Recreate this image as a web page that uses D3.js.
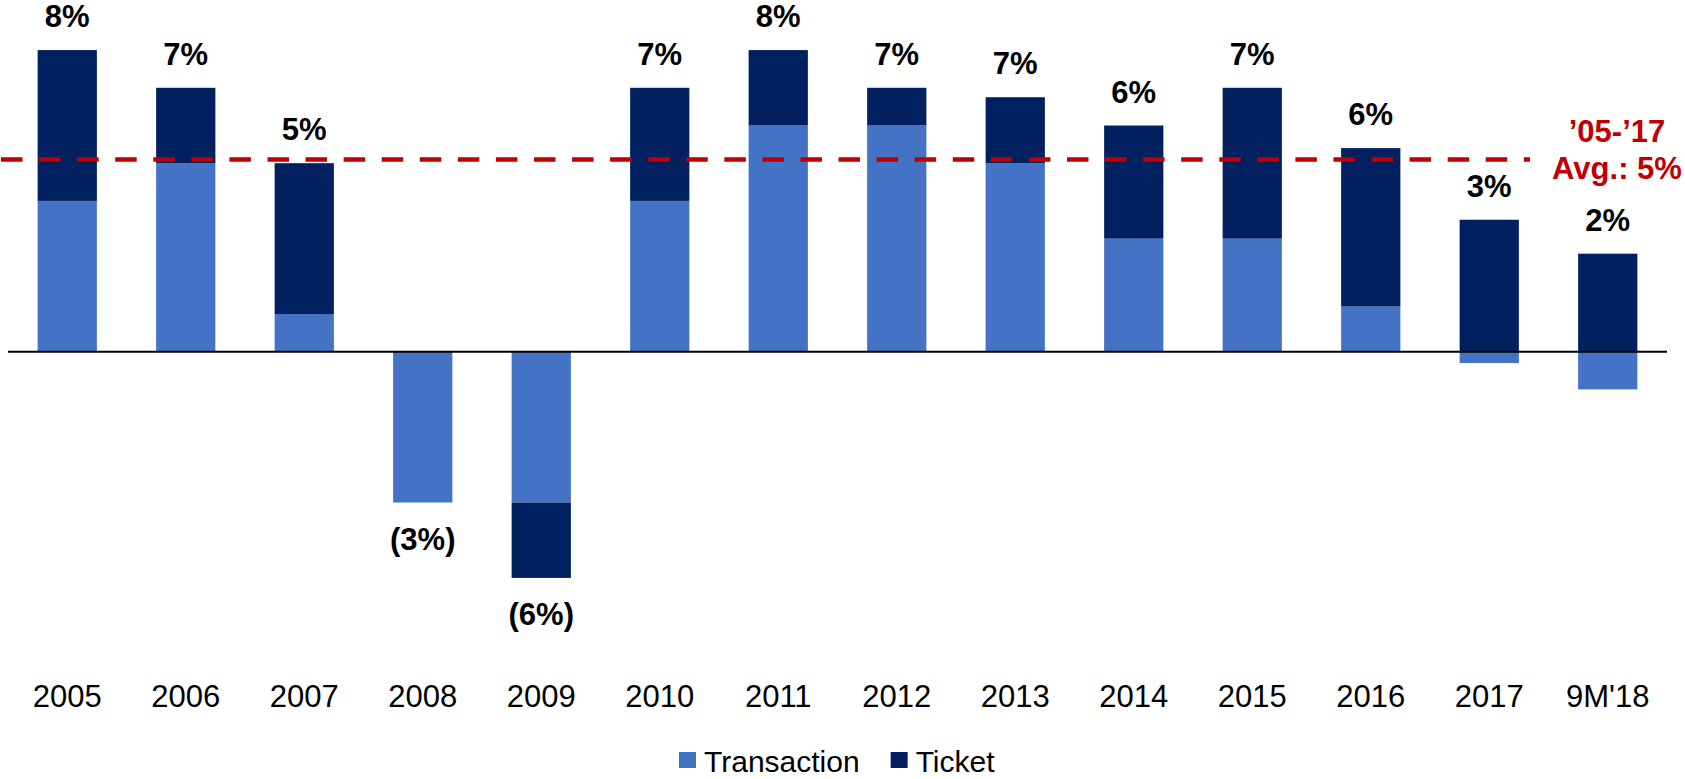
<!DOCTYPE html>
<html>
<head>
<meta charset="utf-8">
<script src="https://cdn.jsdelivr.net/npm/d3@7"></script>
<style>
    body { margin: 0; background: #fff; }
    svg { display: block; font-family: "Liberation Sans", Arial, sans-serif; }
</style>
</head>
<body>
<svg></svg>
<script>
// growth split into transaction and ticket contribution, in %
var categories = ['2005', '2006', '2007', '2008', '2009', '2010', '2011', '2012', '2013', '2014', '2015', '2016', '2017', "9M'18"];
var transaction = [4.0, 5.0, 1.0, -4.0, -4.0, 4.0, 6.0, 6.0, 5.0, 3.0, 3.0, 1.2, -0.3, -1.0];
var ticket = [4.0, 2.0, 4.0, 0, -2.0, 3.0, 2.0, 1.0, 1.75, 3.0, 4.0, 4.2, 3.5, 2.6];
var totalLabels = ['8%', '7%', '5%', '(3%)', '(6%)', '7%', '8%', '7%', '7%', '6%', '7%', '6%', '3%', '2%'];
var avgValue = 5.1;
var avgLabel = ['\u201905-\u201917', 'Avg.: 5%'];
var seriesNames = ['Transaction', 'Ticket'];

var width = 1685;
var height = 779;
var colors = {Transaction: '#4472c4', Ticket: '#002060'};

var svg = d3.select('svg')
    .attr('width', width)
    .attr('height', height);

var x = d3.scaleBand()
    .domain(categories)
    .range([8, 1667])
    .paddingInner(0.5)
    .paddingOuter(0.25);

// zero sits at 351.7px, ~37.7px per percent
var y = d3.scaleLinear()
    .domain([-6.5, 8.5])
    .range([596.75, 31.25]);

// stack: each segment grows from zero or from the previous segment of same sign
var rows = categories.map(function(c, i) {
    var segs = [];
    var pos = 0, neg = 0;
    [['Transaction', transaction[i]], ['Ticket', ticket[i]]].forEach(function(s) {
        var v = s[1];
        if (v >= 0) {
            segs.push({name: s[0], y0: pos, y1: pos + v});
            pos += v;
        } else {
            segs.push({name: s[0], y0: neg, y1: neg + v});
            neg += v;
        }
    });
    return {cat: c, segs: segs, top: pos, bottom: neg, label: totalLabels[i], net: transaction[i] + ticket[i]};
});

var barG = svg.append('g');
barG.selectAll('g.bar')
    .data(rows)
    .enter().append('g')
    .attr('class', 'bar')
    .selectAll('rect')
    .data(function(d) { return d.segs.map(function(s) { return Object.assign({cat: d.cat}, s); }); })
    .enter().append('rect')
    .attr('x', function(d) { return x(d.cat); })
    .attr('width', x.bandwidth())
    .attr('y', function(d) { return y(Math.max(d.y0, d.y1)); })
    .attr('height', function(d) { return Math.abs(y(d.y0) - y(d.y1)); })
    .attr('fill', function(d) { return colors[d.name]; });

// zero line
svg.append('line')
    .attr('x1', 8)
    .attr('x2', 1667)
    .attr('y1', y(0))
    .attr('y2', y(0))
    .attr('stroke', '#000')
    .attr('stroke-width', 2);

// average line
svg.append('line')
    .attr('x1', 1)
    .attr('x2', 1530)
    .attr('y1', y(avgValue))
    .attr('y2', y(avgValue))
    .attr('stroke', '#c00000')
    .attr('stroke-width', 4.5)
    .attr('stroke-dasharray', '21.5,16.57');

var avgText = svg.append('text')
    .attr('x', 1617)
    .attr('y', 142.3)
    .attr('text-anchor', 'middle')
    .attr('font-size', 31)
    .attr('font-weight', 'bold')
    .attr('fill', '#c00000');
avgText.selectAll('tspan')
    .data(avgLabel)
    .enter().append('tspan')
    .attr('x', 1617)
    .attr('dy', function(d, i) { return i === 0 ? 0 : 37; })
    .text(function(d) { return d; });

// total labels
svg.append('g')
    .selectAll('text')
    .data(rows)
    .enter().append('text')
    .attr('x', function(d) { return x(d.cat) + x.bandwidth() / 2; })
    .attr('y', function(d) { return d.net >= 0 ? y(d.top) - 23 : y(d.bottom) + 47; })
    .attr('text-anchor', 'middle')
    .attr('font-size', 31)
    .attr('font-weight', 'bold')
    .attr('fill', '#000')
    .text(function(d) { return d.label; });

// category axis, no line or ticks
var xAxis = svg.append('g')
    .attr('transform', 'translate(0,684)')
    .call(d3.axisBottom(x).tickSize(0).tickPadding(0));
xAxis.select('.domain').remove();
xAxis.selectAll('text')
    .attr('font-family', '"Liberation Sans", Arial, sans-serif')
    .attr('font-size', 31)
    .attr('fill', '#000')
    .attr('dy', 0)
    .attr('y', 22.7);

// legend, kept a little above the bottom edge
var legend = svg.append('g');
var lx = 679;
seriesNames.forEach(function(name) {
    legend.append('rect')
        .attr('x', lx)
        .attr('y', 752)
        .attr('width', 17)
        .attr('height', 16)
        .attr('fill', colors[name]);
    var t = legend.append('text')
        .attr('x', lx + 25)
        .attr('y', 772)
        .attr('font-size', 30)
        .attr('fill', '#000')
        .text(name);
    lx += 25 + t.node().getComputedTextLength() + 31;
});
</script>
</body>
</html>
